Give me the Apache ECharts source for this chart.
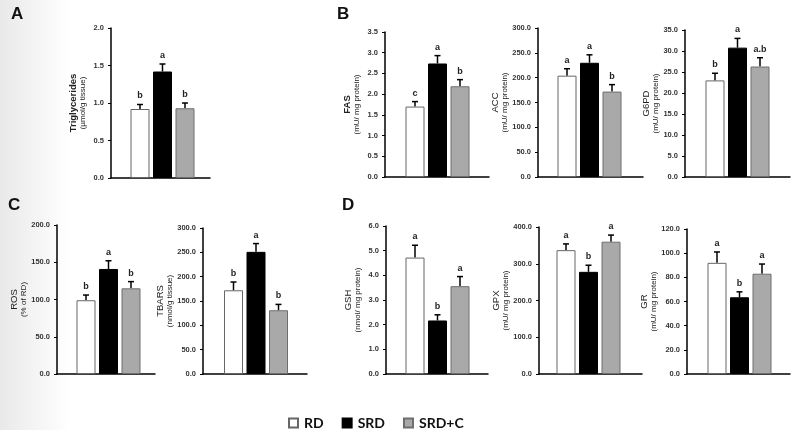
<!DOCTYPE html>
<html>
<head>
<meta charset="utf-8">
<script src="https://cdn.jsdelivr.net/npm/echarts@6/dist/echarts.min.js"></script>
<style>
  html, body { margin: 0; padding: 0; background: #fff; }
  #chart { width: 793px; height: 430px; }
</style>
</head>
<body>
<div id="chart"></div>
<script>
var categories = ['RD', 'SRD', 'SRD+C'];

// values (bar = mean, top = end of error bar)
var tgMean = [0.92, 1.42, 0.93],   tgTop = [0.98, 1.52, 1.00],   tgSig = ['b', 'a', 'b'];
var fasMean = [1.70, 2.74, 2.19],  fasTop = [1.82, 2.93, 2.35],  fasSig = ['c', 'a', 'b'];
var accMean = [204, 230, 172],     accTop = [218, 246, 186],     accSig = ['a', 'a', 'b'];
var g6pdMean = [23.0, 30.8, 26.3], g6pdTop = [24.7, 33.0, 28.4], g6pdSig = ['b', 'a', 'a.b'];
var rosMean = [99, 141, 115],      rosTop = [106, 152, 124],     rosSig = ['b', 'a', 'b'];
var tbarsMean = [172, 251, 131],   tbarsTop = [189, 268, 143],   tbarsSig = ['b', 'a', 'b'];
var gshMean = [4.72, 2.17, 3.56],  gshTop = [5.22, 2.40, 3.95],  gshSig = ['a', 'b', 'a'];
var gpxMean = [337, 278, 360],     gpxTop = [354, 296, 378],     gpxSig = ['a', 'b', 'a'];
var grMean = [92, 63.5, 83],       grTop = [101, 68, 91],        grSig = ['a', 'b', 'a'];

// y axis ranges
var yMax  = [2.0, 3.5, 300, 35, 200, 300, 6.0, 400, 120];
var yStep = [0.5, 0.5, 50, 5, 50, 50, 1.0, 100, 20];

var titles = ['Triglycerides', 'FAS', 'ACC', 'G6PD', 'ROS', 'TBARS', 'GSH', 'GPX', 'GR'];
var units = ['(µmol/g tissue)', '(mU/ mg protein)', '(mU/ mg protein)', '(mU/ mg protein)',
  '(% of RD)', '(nmol/g tissue)', '(nmol/ mg protein)', '(mU/ mg protein)', '(mU/ mg protein)'];
var boldTitle = [true, true, false, false, false, false, false, false, false];

var means = [tgMean, fasMean, accMean, g6pdMean, rosMean, tbarsMean, gshMean, gpxMean, grMean];
var tops = [tgTop, fasTop, accTop, g6pdTop, rosTop, tbarsTop, gshTop, gpxTop, grTop];
var sigs = [tgSig, fasSig, accSig, g6pdSig, rosSig, tbarsSig, gshSig, gpxSig, grSig];

// panel placement: [axis left, first bar centre, axis right, top, bottom]
var layout = [
  [111, 140, 210, 28, 178],
  [385, 415, 489, 32, 177],
  [538, 567, 643, 28, 177],
  [685, 715, 790, 30, 177],
  [57, 86, 155, 225, 374],
  [203, 233.5, 307, 228, 374],
  [386, 415, 488, 226, 374],
  [539, 566, 642, 227, 374],
  [687, 717, 790, 229, 374]
];
var STEP = 22.5;

var barStyles = [
  { color: '#ffffff', borderColor: '#666666', borderWidth: 1 },
  { color: '#000000', borderColor: '#000000', borderWidth: 1 },
  { color: '#a9a9a9', borderColor: '#6e6e6e', borderWidth: 1 }
];

var FONT = 'Liberation Sans, Arial, sans-serif';
var grid = [], xAxis = [], yAxis = [], series = [];

layout.forEach(function (l, i) {
  grid.push({ left: l[0], top: l[3], width: l[2] - l[0], height: l[4] - l[3] });
  xAxis.push({
    type: 'value', gridIndex: i,
    min: -(l[1] - l[0]) / STEP, max: (l[2] - l[1]) / STEP,
    axisLine: { show: true, onZero: false, lineStyle: { color: '#000', width: 1.5 } },
    axisTick: { show: false }, axisLabel: { show: false }, splitLine: { show: false }
  });
  yAxis.push({
    type: 'value', gridIndex: i, min: 0, max: yMax[i], interval: yStep[i],
    name: '{t|' + titles[i] + '}\n{u|' + units[i] + '}',
    nameLocation: 'middle', nameRotate: 90, nameGap: 24,
    nameTextStyle: {
      fontFamily: FONT, color: '#222',
      rich: {
        t: { fontSize: 9.5, fontWeight: boldTitle[i] ? 'bold' : 'normal', lineHeight: 9, fontFamily: FONT, color: '#222' },
        u: { fontSize: 8, lineHeight: 9, fontFamily: FONT, color: '#222' }
      }
    },
    axisLine: { show: true, onZero: false, lineStyle: { color: '#000', width: 1.5 } },
    axisTick: { show: true, length: 3, lineStyle: { color: '#000', width: 1 } },
    axisLabel: {
      fontSize: 7.5, fontWeight: 'bold', fontFamily: FONT, color: '#333', margin: 7,
      formatter: function (v) { return v.toFixed(1); }
    },
    splitLine: { show: false }
  });

  categories.forEach(function (c, k) {
    series.push({
      name: c, type: 'bar', xAxisIndex: i, yAxisIndex: i,
      barWidth: 19, barGap: '-100%',
      itemStyle: barStyles[k],
      data: [[k, means[i][k]]],
      animation: false
    });
  });

  series.push({
    type: 'custom', xAxisIndex: i, yAxisIndex: i, animation: false, silent: true,
    data: categories.map(function (c, k) { return [k, means[i][k], tops[i][k]]; }),
    renderItem: function (params, api) {
      var p0 = api.coord([api.value(0), api.value(1)]);
      var p1 = api.coord([api.value(0), api.value(2)]);
      var st = { stroke: '#000', lineWidth: 1.5 };
      return {
        type: 'group',
        children: [
          { type: 'line', shape: { x1: p0[0], y1: p0[1], x2: p1[0], y2: p1[1] }, style: st },
          { type: 'line', shape: { x1: p1[0] - 3, y1: p1[1], x2: p1[0] + 3, y2: p1[1] }, style: st },
          { type: 'text', x: p1[0], y: p1[1] - 4,
            style: { text: sigs[i][params.dataIndex], align: 'center', verticalAlign: 'bottom',
              fontSize: 9, fontWeight: 'bold', fontFamily: FONT, fill: '#222' } }
        ]
      };
    }
  });
});

var chart = echarts.init(document.getElementById('chart'), null, { renderer: 'canvas' });
chart.setOption({
  backgroundColor: '#ffffff',
  animation: false,
  graphic: [
    { type: 'rect', left: 0, top: 0, z: -10, shape: { width: 70, height: 430 },
      style: { fill: new echarts.graphic.LinearGradient(0, 0, 1, 0, [
        { offset: 0, color: '#e9e9e9' }, { offset: 1, color: '#ffffff' }]) } },
    { type: 'text', left: 11, top: 6, style: { text: 'A', fontSize: 17, fontWeight: 'bold', fontFamily: FONT, fill: '#111' } },
    { type: 'text', left: 337, top: 6, style: { text: 'B', fontSize: 17, fontWeight: 'bold', fontFamily: FONT, fill: '#111' } },
    { type: 'text', left: 8, top: 197, style: { text: 'C', fontSize: 17, fontWeight: 'bold', fontFamily: FONT, fill: '#111' } },
    { type: 'text', left: 342, top: 197, style: { text: 'D', fontSize: 17, fontWeight: 'bold', fontFamily: FONT, fill: '#111' } }
  ],
  legend: {
    data: categories, left: 283, top: 411, icon: 'rect',
    itemWidth: 9, itemHeight: 9, itemGap: 18,
    textStyle: { fontSize: 14, fontWeight: 'bold', fontFamily: 'Lato, Open Sans, sans-serif', color: '#111', padding: [0, 0, 0, 1] },
    selectedMode: false
  },
  grid: grid, xAxis: xAxis, yAxis: yAxis, series: series
});
</script>
</body>
</html>
